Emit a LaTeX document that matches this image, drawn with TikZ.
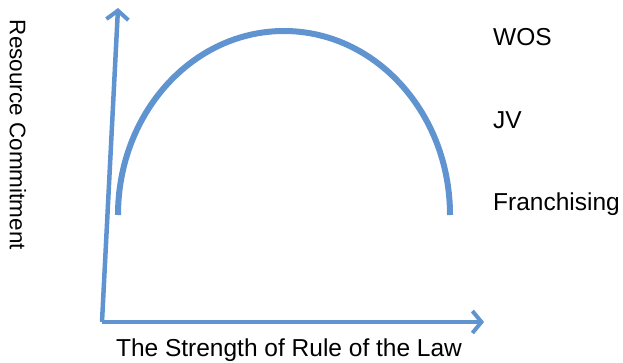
\documentclass[tikz,border=0pt]{standalone}
\usepackage{fontspec}
\setmainfont{Liberation Sans}
\usetikzlibrary{arrows.meta}
\definecolor{axisblue}{RGB}{96,148,208}
\begin{document}
\begin{tikzpicture}[x=1pt,y=-1pt,
  axis/.style={draw=axisblue,line width=4.5pt,-{Straight Barb[length=9pt,width=22pt,line width=4pt]}},
  curve/.style={draw=axisblue,line width=6pt},
  lbl/.style={font=\fontsize{24.5}{28}\selectfont,inner sep=0pt,text=black},
  ylbl/.style={font=\fontsize{22.5}{26}\selectfont,inner sep=0pt,text=black}]
\useasboundingbox (0,0) rectangle (623,362);
\coordinate (O) at (102,322);
\coordinate (Ytop) at (118,8);
\coordinate (Xend) at (484,322);
\draw[axis] (O) -- (Ytop);
\draw[axis] (O) -- (Xend);
\draw[curve] (118,215) arc[start angle=180,end angle=0,x radius=166,y radius=-184];
\node[lbl,anchor=west] (wos) at (493,37) {WOS};
\node[lbl,anchor=west] (jv) at (493,120) {JV};
\node[lbl,anchor=west] (fr) at (493,204) {Franchising};
\node[lbl] (xl) at (289,350) {The Strength of Rule of the Law};
\node[ylbl,rotate=-90] (yl) at (18,135) {Resource Commitment};
\end{tikzpicture}
\end{document}
